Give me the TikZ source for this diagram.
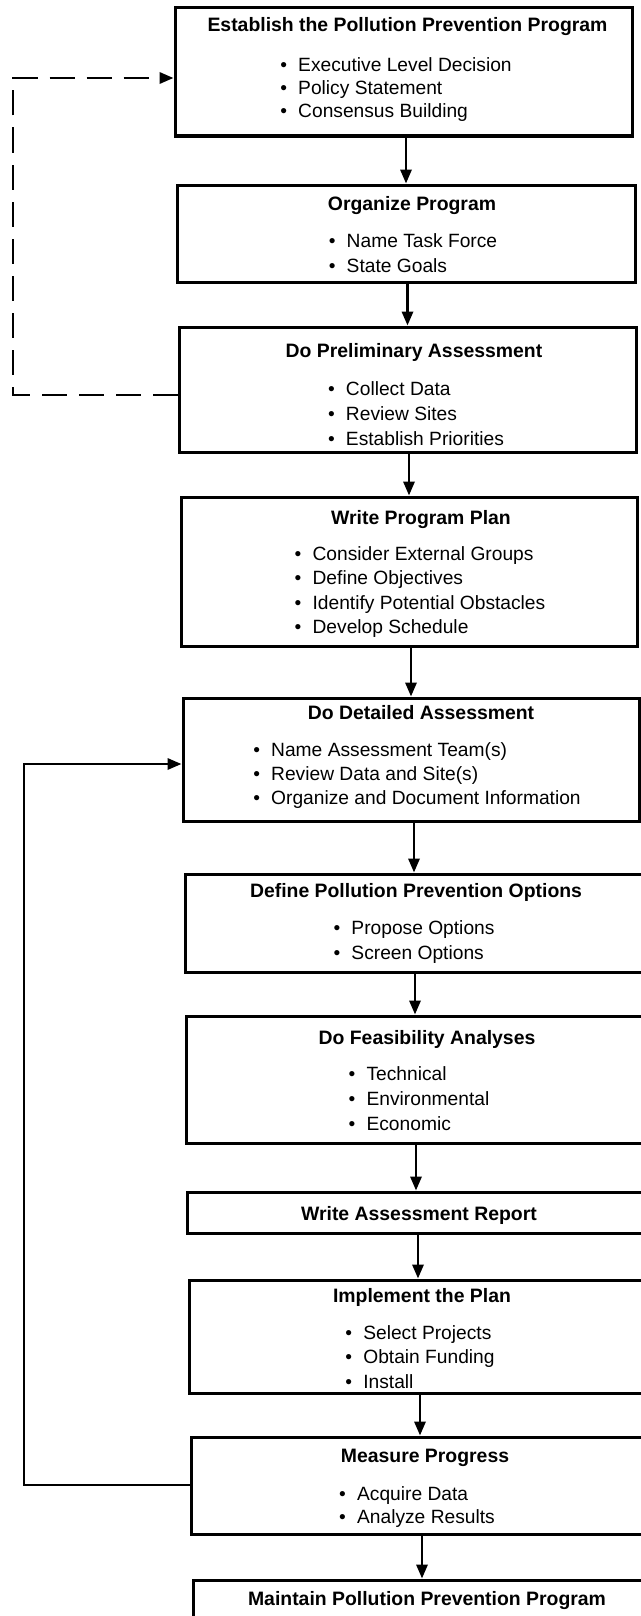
\documentclass[tikz,border=0pt]{standalone}
\usepackage{fontspec}
\setmainfont{Liberation Sans}
\usetikzlibrary{arrows.meta}

% one box of the flow chart, given by its name and its left, top, right, bottom edges
\newcommand\mkbox[5]{%
  \node[stagebox, minimum width={(#4-#2)*0.5pt}, minimum height={(#5-#3)*0.5pt}]
    (#1) at ({(#2+#4)/2},{(#3+#5)/2}) {};}
% a bulleted list, first line on the node's baseline
\newcommand\itm[1]{\hbox{\textbullet\hspace{5.6pt}#1}}
\newcommand\itemlist[2]{\vtop{\baselineskip=#1\lineskip=0pt\lineskiplimit=-20pt #2}}

\tikzset{
  stagebox/.style={draw, rectangle, line width=1.5pt, inner sep=0pt, fill=white},
  ttl/.style={anchor=base, inner sep=0pt, font=\fontsize{9.7pt}{11pt}\selectfont\bfseries},
  items/.style={anchor=base, inner sep=0pt, font=\fontsize{9.6pt}{12pt}\selectfont},
  flow/.style={line width=1.3pt, -{Triangle[length=7pt,width=5.6pt]}},
  dashflow/.style={flow, line width=1.4pt, dash pattern=on 12.5pt off 6pt},
}

\begin{document}
\begin{tikzpicture}[x=0.5pt, y=-0.5pt]
\useasboundingbox (0,0) rectangle (641,1616);
\clip (0,0) rectangle (641,1616);
\fill[white] (0,0) rectangle (641,1616);

% stages
\mkbox{b1}{175}{8}{632}{136}
\mkbox{b2}{177}{185}{635}{282}
\mkbox{b3}{179}{327}{636}{452}
\mkbox{b4}{181}{497}{637}{646}
\mkbox{b5}{183}{698}{639}{821}
\mkbox{b6}{185}{874}{643}{972}
\mkbox{b7}{186}{1016}{644}{1143}
\mkbox{b8}{187}{1192}{645}{1233}
\mkbox{b9}{189}{1280}{647}{1393}
\mkbox{b10}{191}{1437}{649}{1534}
\mkbox{b11}{193}{1580}{651}{1720}

% titles and bullet lists
\node[ttl] (b1t) at (407.5,32) {Establish the Pollution Prevention Program};
\node[items] (b1i) at (396,72) {\itemlist{11.5pt}{%
  \itm{Executive Level Decision}\itm{Policy Statement}\itm{Consensus Building}}};

\node[ttl] (b2t) at (412,210) {Organize Program};
\node[items] (b2i) at (413,247) {\itemlist{12.5pt}{%
  \itm{Name Task Force}\itm{State Goals}}};

\node[ttl] (b3t) at (414,357) {Do Preliminary Assessment};
\node[items] (b3i) at (416,395) {\itemlist{12.5pt}{%
  \itm{Collect Data}\itm{Review Sites}\itm{Establish Priorities}}};

\node[ttl] (b4t) at (421,524) {Write Program Plan};
\node[items] (b4i) at (420,560) {\itemlist{12.3pt}{%
  \itm{Consider External Groups}\itm{Define Objectives}%
  \itm{Identify Potential Obstacles}\itm{Develop Schedule}}};

\node[ttl] (b5t) at (421,719) {Do Detailed Assessment};
\node[items] (b5i) at (417,756) {\itemlist{12pt}{%
  \itm{Name Assessment Team(s)}\itm{Review Data and Site(s)}%
  \itm{Organize and Document Information}}};

\node[ttl] (b6t) at (416,897) {Define Pollution Prevention Options};
\node[items] (b6i) at (414,934) {\itemlist{12.5pt}{%
  \itm{Propose Options}\itm{Screen Options}}};

\node[ttl] (b7t) at (427,1044) {Do Feasibility Analyses};
\node[items] (b7i) at (419,1080) {\itemlist{12.5pt}{%
  \itm{Technical}\itm{Environmental}\itm{Economic}}};

\node[ttl] (b8t) at (419,1220) {Write Assessment Report};

\node[ttl] (b9t) at (422,1302) {Implement the Plan};
\node[items] (b9i) at (420,1339) {\itemlist{12.3pt}{%
  \itm{Select Projects}\itm{Obtain Funding}\itm{Install}}};

\node[ttl] (b10t) at (425,1462) {Measure Progress};
\node[items] (b10i) at (417,1500) {\itemlist{11.5pt}{%
  \itm{Acquire Data}\itm{Analyze Results}}};

\node[ttl] (b11t) at (427,1605) {Maintain Pollution Prevention Program};

% main sequence
\foreach \a/\b in {b1/b2, b2/b3, b3/b4, b4/b5, b5/b6, b6/b7, b7/b8, b8/b9, b9/b10, b10/b11}
  \draw[flow] (\a.south -| \b.north) -- (\b.north);

% dashed return from the preliminary assessment to the start
\coordinate (dA) at (13,395);
\coordinate (dB) at (13,78);
\draw[dashflow] (b3.west |- dA) -- (dA) -- (dB) -- (b1.west |- dB);

% loop from measuring progress back to the detailed assessment
\coordinate (sA) at (24,1485);
\coordinate (sB) at (24,764);
\draw[flow] (b10.west |- sA) -- (sA) -- (sB) -- (b5.west |- sB);
\end{tikzpicture}
\end{document}
